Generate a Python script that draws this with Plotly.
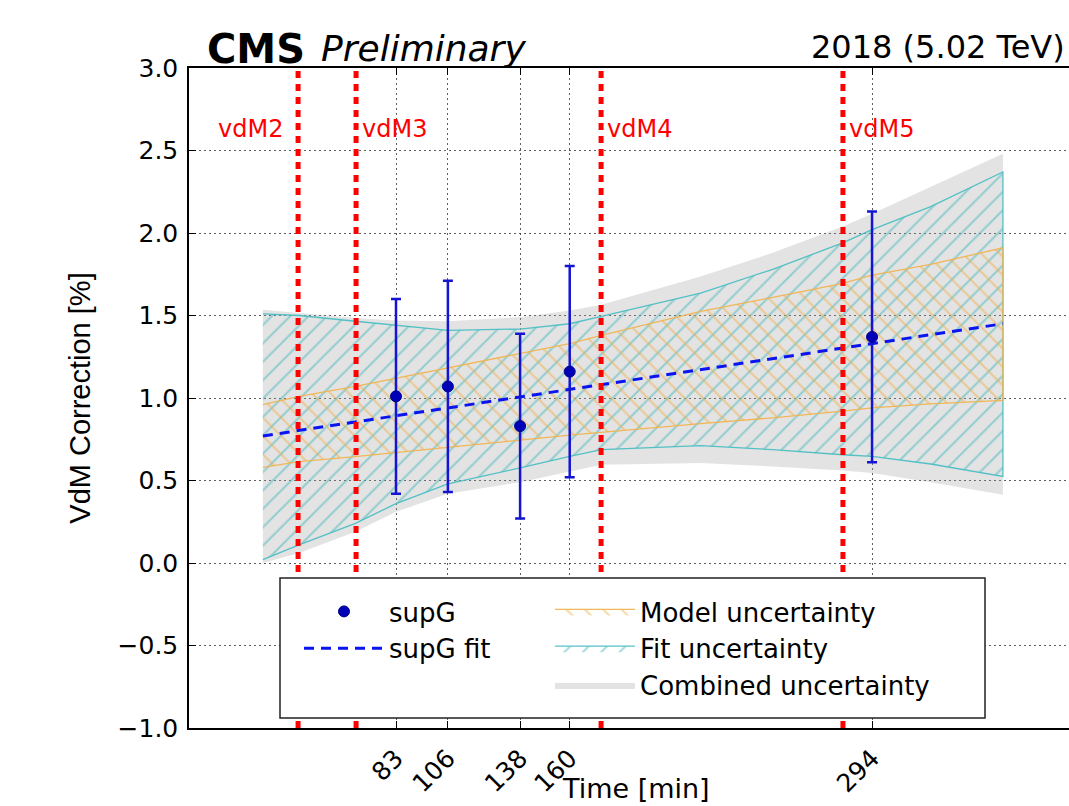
import plotly.graph_objects as go

# ---------------- data ----------------
scan_times = [83, 106, 138, 160, 294]
supg_values = [1.01, 1.07, 0.83, 1.16, 1.37]
supg_errors = [0.59, 0.64, 0.56, 0.64, 0.76]

fit_times = [24, 352]
fit_values = [0.77, 1.45]

band_times = [24, 40, 65, 83, 106, 138, 160, 174, 218, 250, 281, 294, 320, 352]
model_upper = [0.96, 1.01, 1.07, 1.12, 1.18, 1.27, 1.33, 1.38, 1.525, 1.61, 1.695, 1.745, 1.81, 1.91]
model_lower = [0.58, 0.615, 0.645, 0.67, 0.70, 0.745, 0.775, 0.795, 0.845, 0.88, 0.92, 0.94, 0.965, 0.985]
fitunc_upper = [1.51, 1.50, 1.465, 1.44, 1.41, 1.418, 1.45, 1.494, 1.636, 1.78, 1.94, 2.02, 2.16, 2.37]
fitunc_lower = [0.02, 0.11, 0.24, 0.36, 0.48, 0.576, 0.646, 0.687, 0.711, 0.687, 0.656, 0.646, 0.60, 0.525]
comb_upper = [1.535, 1.515, 1.485, 1.47, 1.465, 1.49, 1.53, 1.565, 1.737, 1.88, 2.04, 2.117, 2.28, 2.48]
comb_lower = [0.0, 0.06, 0.19, 0.31, 0.42, 0.49, 0.555, 0.596, 0.606, 0.585, 0.56, 0.545, 0.49, 0.414]

vdm_times = [39.6, 65.3, 173.9, 281.1]
vdm_labels = ["vdM2", "vdM3", "vdM4", "vdM5"]
vdm_label_y = 2.63

x_tick_vals = [83, 106, 138, 160, 294]
x_tick_text = ["83", "106", "138", "160", "294"]
y_tick_vals = [-1.0, -0.5, 0.0, 0.5, 1.0, 1.5, 2.0, 2.5, 3.0]
x_range = [-8.75, 381.3]
y_range = [-1.0, 3.0]

FONT = "DejaVu Sans"


def band_polygon(xs, upper, lower):
    return list(xs) + list(xs)[::-1], list(upper) + list(lower)[::-1]


fig = go.Figure()

# Combined uncertainty (solid light gray)
bx, by = band_polygon(band_times, comb_upper, comb_lower)
fig.add_trace(go.Scatter(
    x=bx, y=by, fill="toself", mode="lines",
    line=dict(width=0, color="rgba(0,0,0,0)"),
    fillcolor="rgba(150,150,150,0.27)",
    name="Combined uncertainty", legend="legend2", legendrank=3,
    hoverinfo="skip"))

# Fit uncertainty (cyan "/" hatch)
bx, by = band_polygon(band_times, fitunc_upper, fitunc_lower)
fig.add_trace(go.Scatter(
    x=bx, y=by, fill="toself", mode="lines",
    line=dict(width=1.3, color="rgba(75,190,195,0.95)"),
    fillcolor="rgba(0,0,0,0)",
    fillpattern=dict(shape="/", size=13, solidity=0.16,
                     fgcolor="rgba(60,180,185,0.95)", bgcolor="rgba(0,0,0,0)"),
    name="Fit uncertainty", legend="legend2", legendrank=2,
    hoverinfo="skip"))

# Model uncertainty (orange "\" hatch)
bx, by = band_polygon(band_times, model_upper, model_lower)
fig.add_trace(go.Scatter(
    x=bx, y=by, fill="toself", mode="lines",
    line=dict(width=1.3, color="rgba(240,180,80,0.95)"),
    fillcolor="rgba(0,0,0,0)",
    fillpattern=dict(shape="\\", size=13, solidity=0.16,
                     fgcolor="rgba(238,172,65,0.95)", bgcolor="rgba(0,0,0,0)"),
    name="Model uncertainty", legend="legend2", legendrank=1,
    hoverinfo="skip"))

# Fit line
fig.add_trace(go.Scatter(
    x=fit_times, y=fit_values, mode="lines",
    line=dict(color="#0a14f0", width=3, dash="10px,7px"),
    name="supG fit", legend="legend", legendrank=2))

# Data points with error bars
fig.add_trace(go.Scatter(
    x=scan_times, y=supg_values, mode="markers",
    marker=dict(color="#0000b8", size=11, line=dict(color="#00008a", width=1)),
    error_y=dict(type="data", array=supg_errors, visible=True,
                 color="#1414d2", thickness=2.5, width=5),
    name="supG", legend="legend", legendrank=1))

# vdM scan markers (vertical red dashed lines + labels)
shapes = []
annotations = []
for t, lab in zip(vdm_times, vdm_labels):
    shapes.append(dict(type="line", xref="x", yref="paper", x0=t, x1=t, y0=0, y1=1,
                       line=dict(color="#ff0000", width=5, dash="7px,6px"), layer="above"))
    left = lab == "vdM2"
    annotations.append(dict(
        x=t, y=vdm_label_y, xref="x", yref="y", text=lab, showarrow=False,
        xanchor="right" if left else "left", yanchor="middle",
        xshift=-13 if left else 4,
        font=dict(family=FONT, size=24, color="#ff0000")))

# legend frame
plot_l, plot_w, plot_b, plot_h = 189, 880, 728, 660
def px_x(p):
    return (p - plot_l) / plot_w
def px_y(p):
    return (plot_b - p) / plot_h

shapes.append(dict(type="rect", xref="paper", yref="paper",
                   x0=px_x(280), x1=px_x(985), y0=px_y(718), y1=px_y(578),
                   line=dict(color="#222222", width=1.5), fillcolor="white", layer="above"))

# header texts
annotations.append(dict(xref="paper", yref="paper", x=px_x(205), y=px_y(49),
                        xanchor="left", yanchor="middle", showarrow=False,
                        text="<b>CMS</b>", font=dict(family=FONT, size=40, color="black")))
annotations.append(dict(xref="paper", yref="paper", x=px_x(319), y=px_y(48),
                        xanchor="left", yanchor="middle", showarrow=False,
                        text="<i>Preliminary</i>", font=dict(family=FONT, size=36, color="black")))
annotations.append(dict(xref="paper", yref="paper", x=px_x(1067), y=px_y(47),
                        xanchor="right", yanchor="middle", showarrow=False,
                        text="2018 (5.02 TeV)", font=dict(family=FONT, size=32, color="black")))
# x-axis title, kept inside the page just below the tick labels
annotations.append(dict(xref="paper", yref="paper", x=px_x(636), y=px_y(806),
                        xanchor="center", yanchor="bottom", showarrow=False,
                        text="Time [min]", font=dict(family=FONT, size=27, color="black")))

fig.update_layout(
    width=1069, height=806, autosize=False,
    margin=dict(l=189, r=0, t=68, b=78, pad=0),
    paper_bgcolor="white", plot_bgcolor="white",
    font=dict(family=FONT, color="black"),
    shapes=shapes, annotations=annotations,
    legend=dict(x=px_x(299), y=px_y(588), xanchor="left", yanchor="top",
                orientation="v", bgcolor="rgba(0,0,0,0)", borderwidth=0,
                itemwidth=80, font=dict(family=FONT, size=26, color="black")),
    legend2=dict(x=px_x(550), y=px_y(588), xanchor="left", yanchor="top",
                 orientation="v", bgcolor="rgba(0,0,0,0)", borderwidth=0,
                 itemwidth=80, font=dict(family=FONT, size=26, color="black")),
    showlegend=True,
)

fig.update_xaxes(
    range=x_range, tickmode="array", tickvals=x_tick_vals, ticktext=x_tick_text,
    tickangle=-45, ticks="inside", ticklen=7, tickcolor="black", tickwidth=1,
    showline=True, linecolor="black", linewidth=1.5, mirror="ticks",
    showgrid=True, gridcolor="rgba(40,40,40,0.75)", griddash="2px,3px", gridwidth=1,
    zeroline=False, automargin=False, ticklabelstandoff=4,
    tickfont=dict(family=FONT, size=25, color="black"),
)
fig.update_yaxes(
    range=y_range, tickmode="array", tickvals=y_tick_vals, tickformat=".1f",
    ticks="inside", ticklen=7, tickcolor="black", tickwidth=1,
    showline=True, linecolor="black", linewidth=1.5, mirror=False,
    showgrid=True, gridcolor="rgba(40,40,40,0.75)", griddash="2px,3px", gridwidth=1,
    zeroline=False, automargin=False, ticklabelstandoff=4,
    tickfont=dict(family=FONT, size=25, color="black"),
    title=dict(text="VdM Correction [%]",
               font=dict(family="Liberation Sans", size=29, color="black"),
               standoff=18),
)

fig.write_html("out.html")
